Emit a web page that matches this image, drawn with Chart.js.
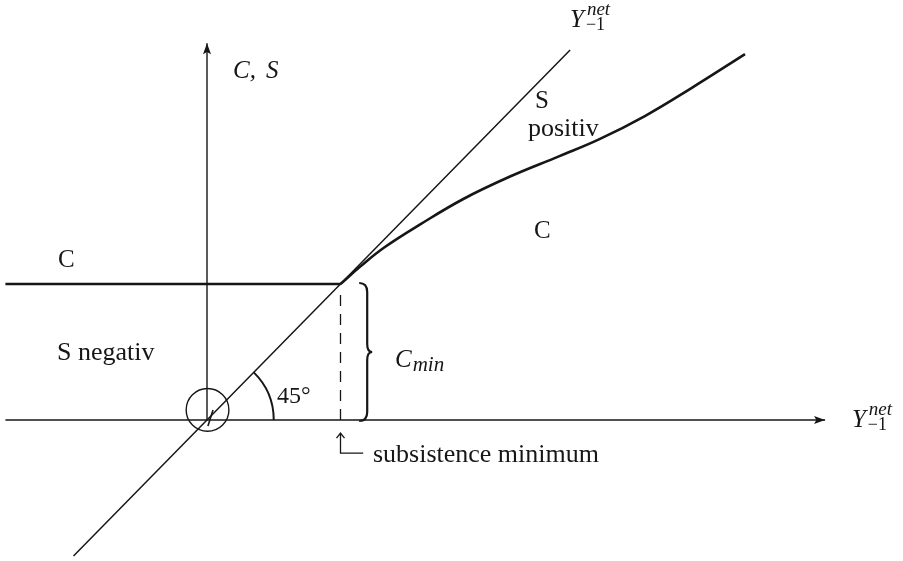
<!DOCTYPE html>
<html>
<head>
<meta charset="utf-8">
<script src="https://cdn.jsdelivr.net/npm/chart.js@4.4.1/dist/chart.umd.min.js"></script>
<style>
  html, body { margin: 0; padding: 0; background: #ffffff; }
  #wrap { width: 903px; height: 561px; }
</style>
</head>
<body>
<div id="wrap"><canvas id="c" width="903" height="561"></canvas></div>
<script>
// ---- data (model units: subsistence minimum = 1, C_min = 1) ----
const subsistence = 1.0;
const cMin = 1.0;
const xAxisPts = [{x: -1.51, y: 0}, {x: 4.63, y: 0}];
const yAxisPts = [{x: 0, y: 0}, {x: 0, y: 2.77}];
const diagonalPts = [{x: -1.0, y: -1.0}, {x: 2.72, y: 2.72}];
const flatCPts = [{x: -1.51, y: cMin}, {x: subsistence, y: cMin}];
const curveX = [1.00, 1.15, 1.33, 1.60, 1.92, 2.27, 2.64, 2.94, 3.28, 3.62, 4.03];
const curveY = [1.00, 1.13, 1.27, 1.44, 1.625, 1.79, 1.94, 2.065, 2.235, 2.435, 2.69];
const dashedTop = 0.94;
const originSlash = [{x: 0.007, y: -0.044}, {x: 0.045, y: 0.074}];
const labelTexts = ["C, S", "C", "S negativ", "S", "positiv", "C", "45°", "C", "min", "subsistence minimum", "Y", "net", "−1"];

// ---- view ----
const xRange = [-1.5506, 5.2135];
const yRange = [-1.0368, 3.0882];
const ink = '#161616';

const curvePts = curveX.map((x, i) => ({x, y: curveY[i]}));
const dashedPts = [{x: subsistence, y: 0}, {x: subsistence, y: dashedTop}];

function lineDs(data, width, extra) {
  return Object.assign({
    data, showLine: true, pointRadius: 0, borderColor: ink, borderWidth: width,
    fill: false, tension: 0
  }, extra || {});
}

const deco = {
  id: 'deco',
  afterDatasetsDraw(chart) {
    const ctx = chart.ctx;
    const X = v => chart.scales.x.getPixelForValue(v);
    const Y = v => chart.scales.y.getPixelForValue(v);
    ctx.save();
    ctx.strokeStyle = ink;
    ctx.fillStyle = ink;
    ctx.lineCap = 'butt';

    function head(tx, ty, ux, uy, len, hw) {
      ctx.beginPath();
      ctx.moveTo(tx, ty);
      ctx.lineTo(tx - ux * len - uy * hw, ty - uy * len + ux * hw);
      ctx.lineTo(tx - ux * len * 0.8, ty - uy * len * 0.8);
      ctx.lineTo(tx - ux * len + uy * hw, ty - uy * len - ux * hw);
      ctx.closePath();
      ctx.fill();
    }
    // axis arrowheads
    head(X(xAxisPts[1].x), Y(0), 1, 0, 11, 4);
    head(X(0), Y(yAxisPts[1].y), 0, -1, 11, 4);

    // origin circle
    ctx.lineWidth = 1.4;
    ctx.beginPath();
    ctx.arc(X(0.004), Y(0.074), X(0.16) - X(0), 0, Math.PI * 2);
    ctx.stroke();

    // 45° arc
    const a = Math.atan2(Y(diagonalPts[1].y) - Y(0), X(diagonalPts[1].x) - X(0));
    ctx.lineWidth = 2;
    ctx.beginPath();
    ctx.arc(X(0), Y(0), X(0.5) - X(0), a, 0);
    ctx.stroke();

    // brace for C_min
    const xs = X(1.2), yT = Y(cMin) - 1, yB = Y(0) + 1, yM = (yT + yB) / 2;
    ctx.lineWidth = 2.2;
    ctx.beginPath();
    ctx.moveTo(xs - 8, yT);
    ctx.quadraticCurveTo(xs, yT, xs, yT + 9);
    ctx.lineTo(xs, yM - 8);
    ctx.quadraticCurveTo(xs, yM, xs + 5, yM);
    ctx.quadraticCurveTo(xs, yM, xs, yM + 8);
    ctx.lineTo(xs, yB - 9);
    ctx.quadraticCurveTo(xs, yB, xs - 8, yB);
    ctx.stroke();

    // subsistence minimum pointer
    ctx.lineWidth = 1.3;
    const px = X(subsistence), pTip = Y(-0.096), pBot = Y(-0.243);
    ctx.beginPath();
    ctx.moveTo(px, pTip);
    ctx.lineTo(px, pBot);
    ctx.lineTo(X(1.17), pBot);
    ctx.moveTo(px - 4, pTip + 5);
    ctx.lineTo(px, pTip);
    ctx.lineTo(px + 4, pTip + 5);
    ctx.stroke();

    // texts
    const serif = '"Liberation Serif", "DejaVu Serif", serif';
    ctx.textBaseline = 'alphabetic';
    ctx.textAlign = 'left';
    function txt(s, x, y, font) { ctx.font = font; ctx.fillText(s, x, y); return ctx.measureText(s).width; }
    const it25 = 'italic 25px ' + serif, rm25 = '25px ' + serif;

    // "C, S"
    let w = txt('C,', X(0.195), Y(2.515), it25);
    txt('S', X(0.195) + w + 10, Y(2.515), it25);
    txt(labelTexts[1], X(-1.116), Y(1.125), rm25);
    txt(labelTexts[2], X(-1.124), Y(0.441), '26px ' + serif);
    txt(labelTexts[3], X(2.457), Y(2.294), rm25);
    txt(labelTexts[4], X(2.404), Y(2.088), '26px ' + serif);
    txt(labelTexts[5], X(2.449), Y(1.338), rm25);
    txt(labelTexts[6], X(0.524), Y(0.125), '24px ' + serif);
    // C_min
    w = txt(labelTexts[7], X(1.408), Y(0.39), it25);
    txt(labelTexts[8], X(1.408) + w + 1, Y(0.39) + 4, 'italic 21px ' + serif);
    // subsistence minimum
    txt(labelTexts[9], X(1.243), Y(-0.309), '26px ' + serif);

    function yNet(x, y) {
      const wy = txt(labelTexts[10], x, y, it25);
      txt(labelTexts[11], x + wy + 3, y - 12, 'italic 19px ' + serif);
      txt(labelTexts[12], x + wy + 2, y + 3, '18px ' + serif);
    }
    yNet(X(2.719), Y(2.89));
    yNet(X(4.831), Y(-0.051));

    ctx.restore();
  }
};

new Chart(document.getElementById('c'), {
  type: 'scatter',
  data: {
    datasets: [
      lineDs(xAxisPts, 1.4),
      lineDs(yAxisPts, 1.4),
      lineDs(diagonalPts, 1.5),
      lineDs(flatCPts, 2.5),
      lineDs(curvePts, 2.6, {tension: 0.4}),
      lineDs(dashedPts, 1.3, {borderDash: [11, 8]}),
      lineDs(originSlash, 1.6)
    ]
  },
  options: {
    responsive: false,
    animation: false,
    devicePixelRatio: 1,
    layout: {padding: 0},
    plugins: {legend: {display: false}, tooltip: {enabled: false}},
    events: [],
    scales: {
      x: {type: 'linear', display: false, min: xRange[0], max: xRange[1]},
      y: {type: 'linear', display: false, min: yRange[0], max: yRange[1]}
    }
  },
  plugins: [deco]
});
</script>
</body>
</html>
